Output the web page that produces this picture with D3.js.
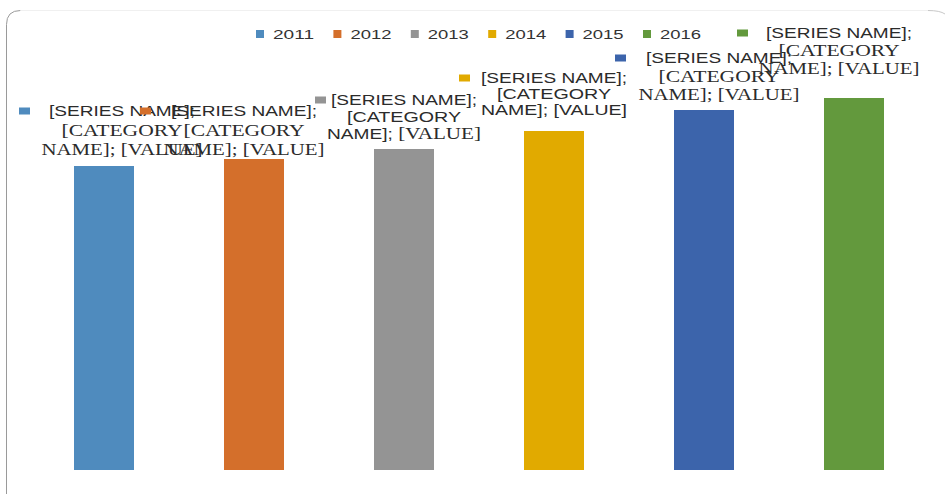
<!DOCTYPE html>
<html>
<head>
<meta charset="utf-8">
<script src="https://cdn.jsdelivr.net/npm/d3@7"></script>
<style>
  html, body { margin: 0; padding: 0; background: #fff; }
  svg { display: block; }
</style>
</head>
<body>
<svg id="chart" width="945" height="494"></svg>
<script>
// chart data
var years = ['2011', '2012', '2013', '2014', '2015', '2016'];
var values = [30.4, 31.1, 32.1, 33.9, 36.0, 37.2];
var colors = ['#4f8bbe', '#d46f2b', '#949494', '#e1aa00', '#3c64ab', '#63993d'];
var labelLines = ['[SERIES NAME];', '[CATEGORY', 'NAME]; [VALUE]'];

// label placement, nudged from each bar's top (data labels overlap in the original)
var labelDx = [18, -10, 0, 0, 15, -15];
var labelDy = [-55, -48, -49, -53, -52, -65];
var labelGap = [19, 19, 16.5, 15.5, 18, 17.5];
var markerDx = [-103, -104, -89, -95, -104, -102];
var line2Sans = [false, false, true, true, false, false];
var line3Sans = [false, false, 'mixed', true, false, false];

var W = 945, H = 494;
var svg = d3.select('#chart');

var SANS = '"Liberation Sans", Arial, sans-serif';
var SERIF = '"Liberation Serif", "Times New Roman", serif';
var textCol = '#2b2b2b';

// chart frame (rounded, runs off the right and bottom edges)
var r = 14;
svg.append('path')
  .attr('d', 'M6.5,500 L6.5,' + (10.5 + r) + ' Q6.5,10.5 ' + (6.5 + r) + ',10.5')
  .attr('fill', 'none')
  .attr('stroke', '#9a9a9a')
  .attr('stroke-width', 1);
svg.append('line')
  .attr('x1', 6.5 + r).attr('x2', 930).attr('y1', 10.5).attr('y2', 10.5)
  .attr('stroke', '#f0f0f0').attr('stroke-width', 1);
svg.append('path')
  .attr('d', 'M928,10.5 Q940,10.5 945,14')
  .attr('fill', 'none').attr('stroke', '#c8c8c8');

var x = d3.scaleBand()
  .domain(years)
  .range([29, 929])
  .paddingInner(0.6)
  .paddingOuter(0.3);

var y = d3.scaleLinear()
  .domain([0, 44])
  .range([470, 30]);

// bars
svg.append('g').selectAll('rect')
  .data(years)
  .join('rect')
  .attr('x', d => x(d))
  .attr('y', (d, i) => y(values[i]))
  .attr('width', x.bandwidth())
  .attr('height', (d, i) => y(0) - y(values[i]))
  .attr('fill', (d, i) => colors[i]);

// legend
var legX = d3.scaleLinear().domain([0, 1]).range([256, 333.4]);
var leg = svg.append('g').selectAll('g')
  .data(years)
  .join('g')
  .attr('transform', (d, i) => 'translate(' + legX(i) + ',0)');
leg.append('rect')
  .attr('x', 0).attr('y', 30)
  .attr('width', 8).attr('height', 8)
  .attr('fill', (d, i) => colors[i]);
leg.append('text')
  .attr('x', 17).attr('y', 38.5)
  .attr('font-family', SANS)
  .attr('font-size', 12.5)
  .attr('fill', '#333')
  .attr('textLength', 41)
  .attr('lengthAdjust', 'spacingAndGlyphs')
  .text(d => d);

// data labels
var lab = svg.append('g').selectAll('g')
  .data(years)
  .join('g')
  .attr('transform', (d, i) => 'translate(' + (x(d) + x.bandwidth() / 2 + labelDx[i]) +
        ',' + (y(values[i]) + labelDy[i]) + ')');

lab.append('rect')
  .attr('x', (d, i) => markerDx[i])
  .attr('y', -3.5)
  .attr('width', 11).attr('height', 7)
  .attr('fill', (d, i) => colors[i]);

lab.append('text')
  .attr('x', 0).attr('y', 5)
  .attr('text-anchor', 'middle')
  .attr('font-family', SANS)
  .attr('font-size', 14.5)
  .attr('fill', textCol)
  .attr('textLength', 146)
  .attr('lengthAdjust', 'spacingAndGlyphs')
  .text(labelLines[0]);

lab.append('text')
  .attr('x', 0).attr('y', (d, i) => labelGap[i] + 5.5)
  .attr('text-anchor', 'middle')
  .attr('font-family', (d, i) => line2Sans[i] ? SANS : SERIF)
  .attr('font-size', (d, i) => line2Sans[i] ? 14.5 : 16)
  .attr('fill', textCol)
  .attr('textLength', (d, i) => line2Sans[i] ? 114 : 121)
  .attr('lengthAdjust', 'spacingAndGlyphs')
  .text(labelLines[1]);

lab.each(function(d, i) {
  var t = d3.select(this).append('text')
    .attr('x', 0).attr('y', labelGap[i] * 2 + 5.5)
    .attr('text-anchor', 'middle')
    .attr('fill', textCol)
    .attr('lengthAdjust', 'spacingAndGlyphs');
  if (line3Sans[i] === 'mixed') {
    var parts = labelLines[2].split(' ');
    t.attr('textLength', 154);
    t.append('tspan').attr('font-family', SANS).attr('font-size', 14.5).text(parts[0] + ' ');
    t.append('tspan').attr('font-family', SERIF).attr('font-size', 16).text(parts[1]);
  } else {
    t.attr('font-family', line3Sans[i] ? SANS : SERIF)
      .attr('font-size', line3Sans[i] ? 14.5 : 16)
      .attr('textLength', line3Sans[i] ? 146 : 161)
      .text(labelLines[2]);
  }
});
</script>
</body>
</html>
